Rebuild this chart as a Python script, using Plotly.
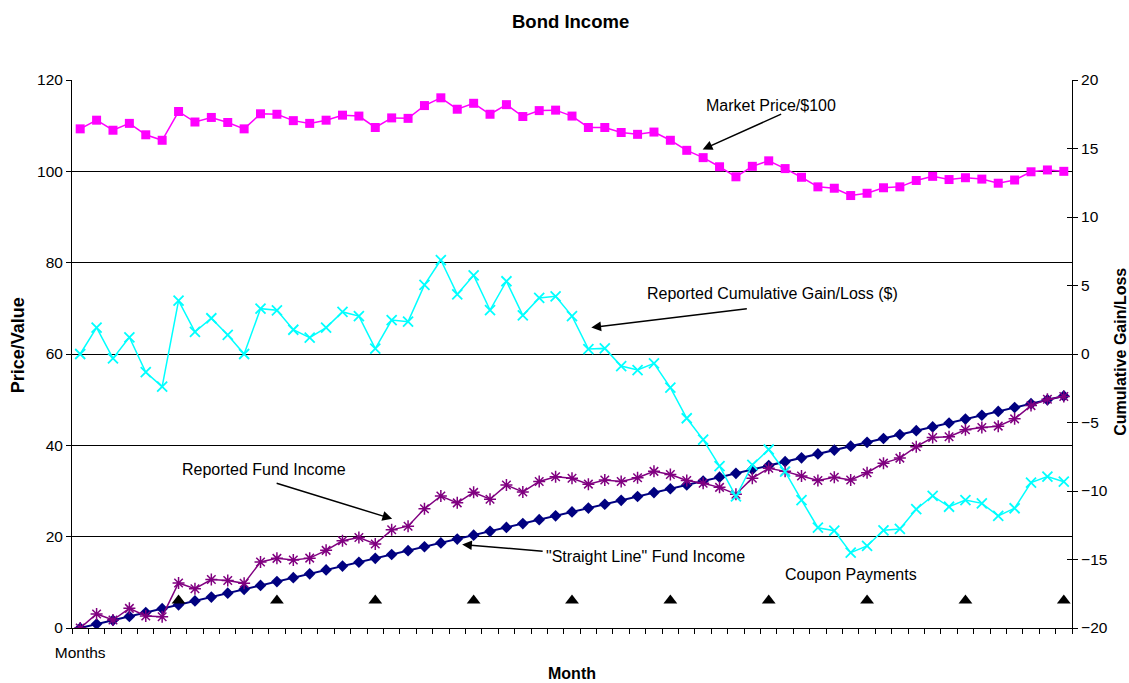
import plotly.graph_objects as go

months = list(range(61))

market_price = [109.3, 111.2, 109.0, 110.5, 108.0, 106.8, 113.1, 110.8, 111.8, 110.7, 109.3,
                112.6, 112.5, 111.1, 110.5, 111.2, 112.3, 112.1, 109.6, 111.7, 111.6,
                114.4, 116.1, 113.6, 114.9, 112.5, 114.6, 112.0, 113.3, 113.4, 112.1,
                109.6, 109.6, 108.5, 108.1, 108.6, 106.8, 104.6, 103.0, 101.0, 98.8,
                101.1, 102.3, 100.6, 98.7, 96.6, 96.3, 94.7, 95.2, 96.4, 96.6,
                98.0, 98.9, 98.2, 98.6, 98.3, 97.4, 98.1, 99.9, 100.3, 100.0]

gain_loss = [0.0, 1.93, -0.32, 1.22, -1.33, -2.38, 3.89, 1.61, 2.61, 1.39, 0.0,
             3.31, 3.19, 1.77, 1.19, 1.93, 3.07, 2.77, 0.39, 2.48, 2.36,
             5.04, 6.86, 4.36, 5.74, 3.21, 5.31, 2.82, 4.09, 4.21, 2.77,
             0.36, 0.41, -0.88, -1.17, -0.68, -2.46, -4.69, -6.25, -8.18, -10.4,
             -8.1, -6.97, -8.59, -10.66, -12.68, -12.9, -14.5, -14.01, -12.87, -12.77,
             -11.33, -10.36, -11.15, -10.66, -10.9, -11.82, -11.26, -9.39, -8.95, -9.32]

straight_line = [0.0, 0.85, 1.69, 2.54, 3.39, 4.24, 5.08, 5.93, 6.78, 7.62, 8.47,
                 9.32, 10.16, 11.01, 11.86, 12.71, 13.55, 14.4, 15.25, 16.09, 16.94,
                 17.79, 18.63, 19.48, 20.33, 21.18, 22.02, 22.87, 23.72, 24.56, 25.41,
                 26.26, 27.1, 27.95, 28.8, 29.65, 30.49, 31.34, 32.19, 33.03, 33.88,
                 34.73, 35.57, 36.42, 37.27, 38.12, 38.96, 39.81, 40.66, 41.5, 42.35,
                 43.2, 44.04, 44.89, 45.74, 46.59, 47.43, 48.28, 49.13, 49.97, 50.82]

fund_income = [0.0, 3.07, 1.75, 4.3, 2.63, 2.48, 9.85, 8.61, 10.6, 10.4, 9.78,
               14.45, 15.25, 14.9, 15.3, 17.0, 19.1, 19.8, 18.4, 21.5, 22.3,
               26.1, 28.9, 27.4, 29.7, 28.2, 31.3, 29.8, 32.1, 33.1, 32.8,
               31.5, 32.4, 32.1, 32.9, 34.3, 33.6, 32.3, 31.7, 30.8, 29.3,
               32.8, 35.0, 34.3, 33.3, 32.3, 33.0, 32.4, 34.0, 36.1, 37.2,
               39.7, 41.7, 41.9, 43.4, 43.9, 44.2, 45.8, 48.7, 50.1, 50.7]

coupon_months = [6, 12, 18, 24, 30, 36, 42, 48, 54, 60]
coupon_level = [6, 6, 6, 6, 6, 6, 6, 6, 6, 6]

FONT = "Liberation Sans, Arial, sans-serif"

fig = go.Figure()

fig.add_trace(go.Scatter(x=months, y=market_price, mode="lines+markers", name="Market Price/$100",
                         line=dict(color="#FF00FF", width=1.5),
                         marker=dict(symbol="square", size=9, color="#FF00FF")))
fig.add_trace(go.Scatter(x=months, y=straight_line, mode="lines+markers", name='"Straight Line" Fund Income',
                         line=dict(color="#000080", width=2),
                         marker=dict(symbol="diamond", size=9, color="#000080")))
fig.add_trace(go.Scatter(x=months, y=fund_income, mode="lines+markers", name="Reported Fund Income",
                         line=dict(color="#800080", width=1.5),
                         marker=dict(symbol="asterisk-open", size=10, color="#800080",
                                     line=dict(color="#800080", width=1.5))))
fig.add_trace(go.Scatter(x=coupon_months, y=coupon_level, mode="markers", name="Coupon Payments",
                         marker=dict(symbol="triangle-up", size=12, color="black")))
fig.add_trace(go.Scatter(x=months, y=gain_loss, mode="lines+markers", name="Reported Cumulative Gain/Loss ($)",
                         yaxis="y2",
                         line=dict(color="#00FFFF", width=1.5),
                         marker=dict(symbol="x-thin-open", size=10, color="#00FFFF",
                                     line=dict(color="#00FFFF", width=1.8))))

ann = []
arrows = [
    (37.97, 104.8, 80, -36),
    (31.18, 65.8, 157, -19),
    (19.03, 23.9, -117, -36),
    (23.3, 18.3, 82, 7),
]
for x, y, ax, ay in arrows:
    ann.append(dict(x=x, y=y, xref="x", yref="y", ax=ax, ay=ay, text="", showarrow=True,
                    arrowhead=2, arrowsize=1.3, arrowwidth=1.5, arrowcolor="black"))

texts = [
    ("Market Price/$100", 0.699, 0.954),
    ("Reported Cumulative Gain/Loss ($)", 0.700, 0.610),
    ("Reported Fund Income", 0.192, 0.290),
    ('"Straight Line" Fund Income', 0.573, 0.131),
    ("Coupon Payments", 0.779, 0.0985),
]
for t, xp, yp in texts:
    ann.append(dict(x=xp, y=yp, xref="paper", yref="paper", text=t, showarrow=False,
                    xanchor="center", yanchor="middle", font=dict(family=FONT, size=16, color="black")))

ann.append(dict(x=0.498, y=1.106, xref="paper", yref="paper", text="<b>Bond Income</b>", showarrow=False,
                xanchor="center", yanchor="middle", font=dict(family=FONT, size=18.5, color="black")))
ann.append(dict(x=0.5, y=-0.0835, xref="paper", yref="paper", text="<b>Month</b>", showarrow=False,
                xanchor="center", yanchor="middle", font=dict(family=FONT, size=16, color="black")))
ann.append(dict(x=-0.054, y=0.516, xref="paper", yref="paper", text="<b>Price/Value</b>", showarrow=False,
                textangle=-90, xanchor="center", yanchor="middle", font=dict(family=FONT, size=18, color="black")))
ann.append(dict(x=1.049, y=0.504, xref="paper", yref="paper", text="<b>Cumulative Gain/Loss</b>", showarrow=False,
                textangle=-90, xanchor="center", yanchor="middle", font=dict(family=FONT, size=16, color="black")))

fig.update_layout(
    width=1129, height=683,
    margin=dict(l=72, r=57, t=80, b=55),
    paper_bgcolor="white", plot_bgcolor="white",
    showlegend=False,
    font=dict(family=FONT, size=15.5, color="black"),
    annotations=ann,
    xaxis=dict(range=[-0.5, 60.5], tickmode="array", tickvals=[0], ticktext=["Months"],
               ticks="", ticklabelstandoff=10, showgrid=False, zeroline=False, showline=True,
               linecolor="black", linewidth=1, tickfont=dict(size=15.5),
               minor=dict(tick0=-0.5, dtick=1, ticks="outside", ticklen=5, tickcolor="black", showgrid=False)),
    yaxis=dict(range=[0, 120], dtick=20, ticks="outside", ticklen=5, tickcolor="black",
               showline=True, linecolor="black", linewidth=1, zeroline=False,
               showgrid=True, gridcolor="black", gridwidth=1, tickfont=dict(size=15.5)),
    yaxis2=dict(range=[-20, 20], dtick=5, overlaying="y", side="right", ticks="outside", ticklen=5,
                tickcolor="black", showline=True, linecolor="black", linewidth=1, zeroline=False,
                showgrid=False, tickfont=dict(size=15.5)),
    yaxis3=dict(range=[-20, 20], dtick=5, overlaying="y", side="right", ticks="inside", ticklen=5,
                tickcolor="black", showline=False, zeroline=False, showgrid=False, showticklabels=False),
)
fig.add_trace(go.Scatter(x=[None], y=[None], yaxis="y3", showlegend=False, hoverinfo="skip"))

fig.write_html("out.html")
